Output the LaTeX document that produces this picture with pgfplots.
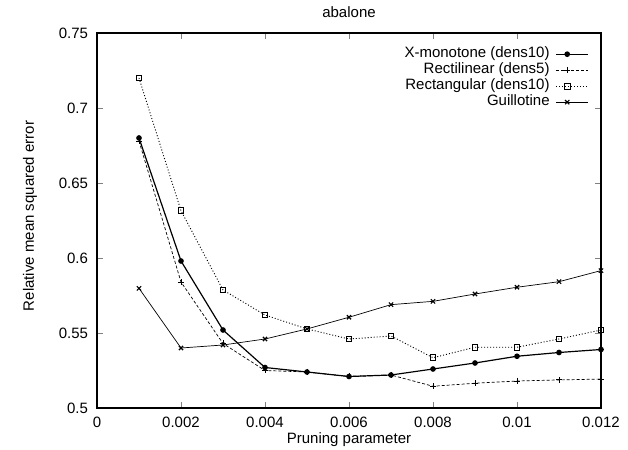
\documentclass[border=0pt]{standalone}
\usepackage{fontspec}
\setmainfont{Liberation Sans}
\usepackage{pgfplots}
\pgfplotsset{compat=1.18}

\begin{document}
\begin{tikzpicture}
\begin{axis}[
    name=ax,
    width=504pt, height=375pt,
    scale only axis,
    font=\fontsize{15}{17}\selectfont,
    /pgf/number format/assume math mode=true,
    scaled ticks=false,
    xmin=0, xmax=0.012,
    ymin=0.5, ymax=0.75,
    xtick={0,0.002,0.004,0.006,0.008,0.01,0.012},
    xticklabels={0,0.002,0.004,0.006,0.008,0.01,0.012},
    ytick={0.5,0.55,0.6,0.65,0.7,0.75},
    yticklabels={0.5,0.55,0.6,0.65,0.7,0.75},
    tick pos=both,
    tick align=inside,
    major tick length=6pt,
    tick style={line width=0.8pt},
    axis line style={line width=1.2pt},
    xticklabel style={yshift=-5pt},
    yticklabel style={xshift=-5.5pt},
    title={abalone},
    title style={at={(rel axis cs:0.5,1)}, anchor=center, yshift=15pt},
    xlabel={Pruning parameter},
    xlabel style={at={(rel axis cs:0.5,0)}, anchor=center, yshift=-32pt},
    ylabel={Relative mean squared error},
    ylabel style={at={(rel axis cs:-0.133,0.512)}, anchor=center},
    legend style={draw=none, fill=none, inner sep=0pt,
        at={(rel axis cs:1,1)}, anchor=north east, xshift=-12pt, yshift=-13pt,
        nodes={inner sep=1pt, text height=10.5pt, text depth=3.5pt},
        font=\fontsize{15}{17}\selectfont, row sep=0pt, column sep=5pt},
    legend cell align=right,
    legend plot pos=right,
    legend image code/.code={
        \draw[mark repeat=2,mark phase=2,#1]
            plot coordinates {(0pt,0pt) (11pt,0pt) (32pt,0pt)};
    },
]
\addplot[black, line width=1.2pt, mark=*, mark size=2.2pt] coordinates {
    (0.001,0.680) (0.002,0.598) (0.003,0.552) (0.004,0.527) (0.005,0.524)
    (0.006,0.521) (0.007,0.522) (0.008,0.526) (0.009,0.530) (0.010,0.5345)
    (0.011,0.537) (0.012,0.539)
};
\addlegendentry{X-monotone (dens10)}
\addplot[black, line width=0.7pt, dash pattern=on 3pt off 2pt, mark=+, mark size=3pt, mark options={solid, line width=0.9pt}] coordinates {
    (0.001,0.678) (0.002,0.584) (0.003,0.543) (0.004,0.525) (0.005,0.524)
    (0.006,0.521) (0.007,0.522) (0.008,0.5145) (0.009,0.5165) (0.010,0.518)
    (0.011,0.5187) (0.012,0.5193)
};
\addlegendentry{Rectilinear (dens5)}
\addplot[black, line width=0.9pt, dash pattern=on 1pt off 2pt, mark=square, mark size=2.8pt, mark options={solid, line width=0.9pt}] coordinates {
    (0.001,0.720) (0.002,0.6315) (0.003,0.5787) (0.004,0.562) (0.005,0.5527)
    (0.006,0.546) (0.007,0.548) (0.008,0.5335) (0.009,0.5405) (0.010,0.5405)
    (0.011,0.546) (0.012,0.552)
};
\addlegendentry{Rectangular (dens10)}
\addplot[black, line width=0.7pt, mark=x, mark size=3pt, mark options={line width=1.1pt}] coordinates {
    (0.001,0.5798) (0.002,0.540) (0.003,0.542) (0.004,0.546) (0.005,0.5527)
    (0.006,0.5605) (0.007,0.5689) (0.008,0.5711) (0.009,0.576) (0.010,0.5805)
    (0.011,0.5842) (0.012,0.5916)
};
\addlegendentry{Guillotine}
\end{axis}
\pgfresetboundingbox
\path ([xshift=-97pt,yshift=-41pt]ax.south west) rectangle ([xshift=27pt,yshift=33pt]ax.north east);
\end{tikzpicture}
\end{document}
